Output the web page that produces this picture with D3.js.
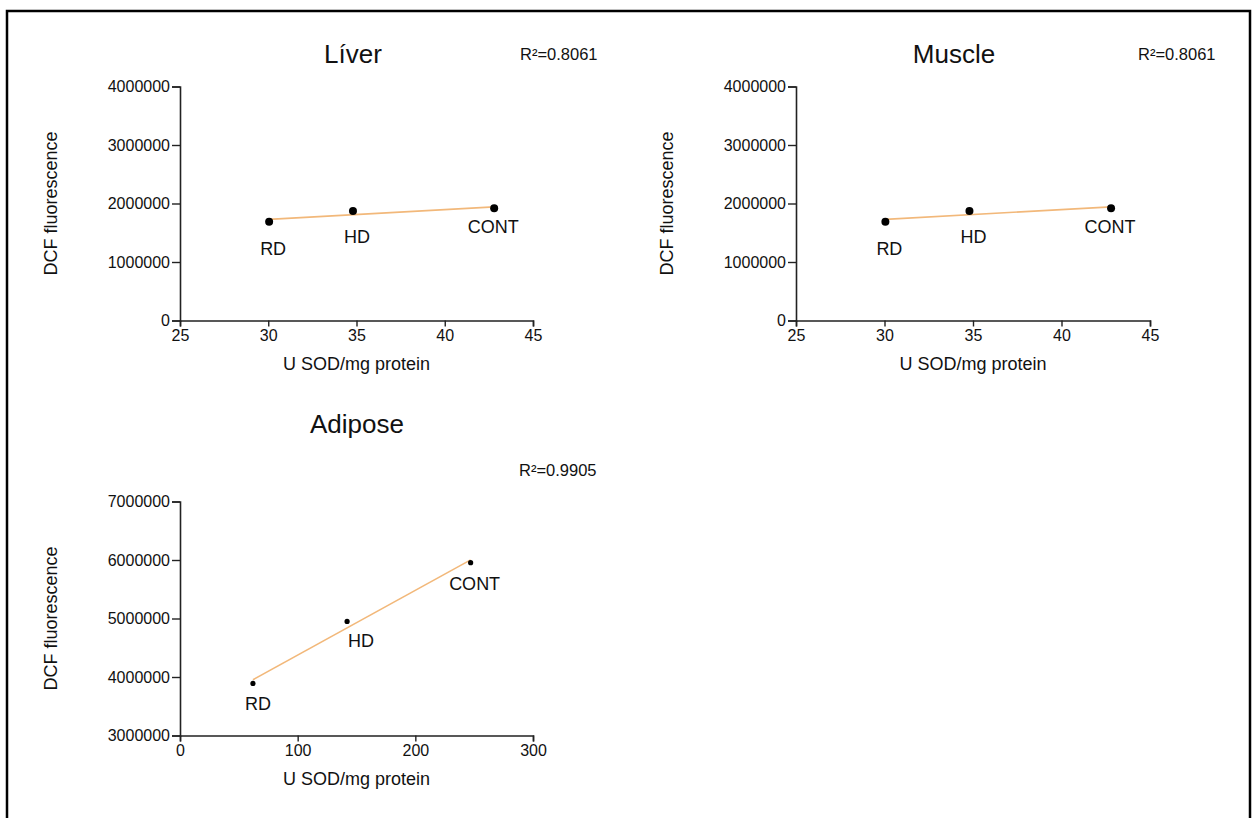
<!DOCTYPE html>
<html>
<head>
<meta charset="utf-8">
<script src="https://cdn.jsdelivr.net/npm/d3@7"></script>
<style>
  body { margin: 0; background: #fff; }
  svg text { font-family: "Liberation Sans", Arial, sans-serif; fill: #111; }
</style>
</head>
<body>
<script>
// ---- data ----
var groups = ["RD", "HD", "CONT"];

var liverSOD = [30.05, 34.8, 42.8];
var liverDCF = [1690000, 1870000, 1920000];

var muscleSOD = [30.05, 34.8, 42.8];
var muscleDCF = [1690000, 1870000, 1920000];

var adiposeSOD = [62, 142, 247];
var adiposeDCF = [3890000, 4950000, 5955000];

var titles = ["Líver", "Muscle", "Adipose"];
var r2Labels = ["R²=0.8061", "R²=0.8061", "R²=0.9905"];

var ticksX1 = [25, 30, 35, 40, 45];
var ticksY1 = [0, 1000000, 2000000, 3000000, 4000000];
var ticksX3 = [0, 100, 200, 300];
var ticksY3 = [3000000, 4000000, 5000000, 6000000, 7000000];

// ---- layout ----
var width = 1256, height = 818;
var svg = d3.select("body").append("svg")
  .attr("width", width)
  .attr("height", height);

svg.append("rect")
  .attr("x", 7).attr("y", 11)
  .attr("width", 1243).attr("height", 900)
  .attr("fill", "none")
  .attr("stroke", "#000")
  .attr("stroke-width", 2.5);

var panels = [
  { sod: liverSOD, dcf: liverDCF, title: titles[0], r2: r2Labels[0],
    x0: 180, x1: 533, y0: 320.5, y1: 86.5, xDom: [25, 45], yDom: [0, 4000000],
    xTicks: ticksX1, yTicks: ticksY1, titleX: 353, titleY: 63, r2X: 520, r2Y: 60,
    r: 4, labelOff: [[4, 33], [4, 32], [-1, 25]] },
  { sod: muscleSOD, dcf: muscleDCF, title: titles[1], r2: r2Labels[1],
    x0: 796, x1: 1150, y0: 320.5, y1: 86.5, xDom: [25, 45], yDom: [0, 4000000],
    xTicks: ticksX1, yTicks: ticksY1, titleX: 954, titleY: 63, r2X: 1138, r2Y: 60,
    r: 4, labelOff: [[4, 33], [4, 32], [-1, 25]] },
  { sod: adiposeSOD, dcf: adiposeDCF, title: titles[2], r2: r2Labels[2],
    x0: 180, x1: 533, y0: 735.5, y1: 501.5, xDom: [0, 300], yDom: [3000000, 7000000],
    xTicks: ticksX3, yTicks: ticksY3, titleX: 357, titleY: 433, r2X: 519, r2Y: 476,
    r: 2.6, labelOff: [[5, 27], [14, 26], [4, 27]] }
];

function drawPanel(p) {
  var g = svg.append("g");
  var x = d3.scaleLinear().domain(p.xDom).range([p.x0, p.x1]);
  var y = d3.scaleLinear().domain(p.yDom).range([p.y0, p.y1]);

  var xAxis = g.append("g")
    .attr("transform", "translate(0," + p.y0 + ")")
    .call(d3.axisBottom(x).tickValues(p.xTicks).tickSize(6).tickPadding(3).tickFormat(d3.format("d")));
  var yAxis = g.append("g")
    .attr("transform", "translate(" + p.x0 + ",0)")
    .call(d3.axisLeft(y).tickValues(p.yTicks).tickSize(8).tickPadding(2).tickFormat(d3.format("d")));

  [xAxis, yAxis].forEach(function (a) {
    a.select(".domain").attr("stroke", "#222").attr("stroke-width", 1.6);
    a.selectAll(".tick line").attr("stroke", "#222").attr("stroke-width", 1.4);
    a.selectAll(".tick text").attr("font-size", 16).attr("fill", "#111")
      .style("font-family", "'Liberation Sans', Arial, sans-serif");
  });

  // least squares fit line across the data range
  var mx = d3.mean(p.sod), my = d3.mean(p.dcf);
  var sxy = d3.sum(p.sod, function (v, i) { return (v - mx) * (p.dcf[i] - my); });
  var sxx = d3.sum(p.sod, function (v) { return (v - mx) * (v - mx); });
  var slope = sxy / sxx, icpt = my - slope * mx;
  var ext = d3.extent(p.sod);
  g.append("line")
    .attr("x1", x(ext[0])).attr("y1", y(icpt + slope * ext[0]))
    .attr("x2", x(ext[1])).attr("y2", y(icpt + slope * ext[1]))
    .attr("stroke", "#f2b87a")
    .attr("stroke-width", 1.6);

  g.selectAll("circle").data(p.sod).enter().append("circle")
    .attr("cx", function (d) { return x(d); })
    .attr("cy", function (d, i) { return y(p.dcf[i]); })
    .attr("r", p.r)
    .attr("fill", "#000");

  g.selectAll("text.lab").data(groups).enter().append("text")
    .attr("class", "lab")
    .attr("x", function (d, i) { return x(p.sod[i]) + p.labelOff[i][0]; })
    .attr("y", function (d, i) { return y(p.dcf[i]) + p.labelOff[i][1]; })
    .attr("text-anchor", "middle")
    .attr("font-size", 18)
    .text(function (d) { return d; });

  g.append("text")
    .attr("x", p.titleX).attr("y", p.titleY)
    .attr("text-anchor", "middle")
    .attr("font-size", 26)
    .text(p.title);

  g.append("text")
    .attr("x", p.r2X).attr("y", p.r2Y)
    .attr("font-size", 16.5)
    .text(p.r2);

  g.append("text")
    .attr("x", (p.x0 + p.x1) / 2).attr("y", p.y0 + 49)
    .attr("text-anchor", "middle")
    .attr("font-size", 18)
    .text("U SOD/mg protein");

  var cy = (p.y0 + p.y1) / 2, cx = p.x0 - 129;
  g.append("text")
    .attr("transform", "translate(" + (cx + 6) + "," + cy + ") rotate(-90)")
    .attr("text-anchor", "middle")
    .attr("font-size", 18)
    .text("DCF fluorescence");
}

panels.forEach(drawPanel);
</script>
</body>
</html>
